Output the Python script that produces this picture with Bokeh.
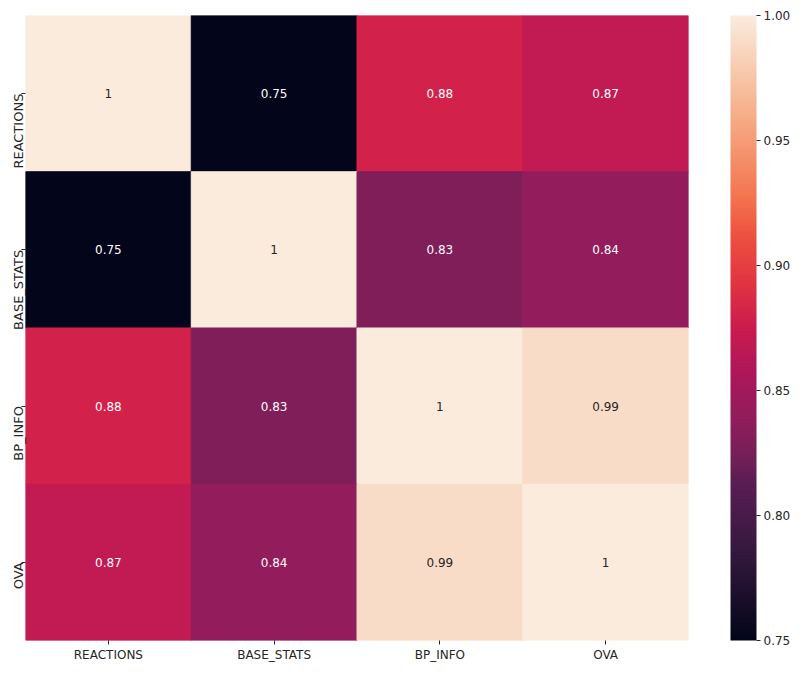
import math
from bokeh.plotting import figure
from bokeh.models import ColumnDataSource, LinearColorMapper, ColorBar, FixedTicker, PrintfTickFormatter
from bokeh.core.properties import value
from bokeh.embed import file_html
from bokeh.resources import INLINE

labels = ["REACTIONS", "BASE_STATS", "BP_INFO", "OVA"]
row_reactions = [1.00, 0.75, 0.88, 0.87]
row_base_stats = [0.75, 1.00, 0.83, 0.84]
row_bp_info = [0.88, 0.83, 1.00, 0.99]
row_ova = [0.87, 0.84, 0.99, 1.00]
matrix = [row_reactions, row_base_stats, row_bp_info, row_ova]
cbar_ticks = [0.75, 0.80, 0.85, 0.90, 0.95, 1.00]

# rocket colormap anchors
anchors = [(0.0, "#03051a"), (0.143, "#35193e"), (0.25, "#581d54"), (0.286, "#701f57"),
           (0.35, "#8f1d5c"), (0.429, "#ad1759"), (0.5, "#cb1b4f"), (0.571, "#e13342"),
           (0.65, "#ed5240"), (0.714, "#f37651"), (0.857, "#f6b48f"), (1.0, "#faebdd")]

def hex2rgb(h):
    return tuple(int(h[i:i+2], 16) for i in (1, 3, 5))

palette = []
for i in range(256):
    t = i / 255
    for k in range(len(anchors) - 1):
        t0, c0 = anchors[k]
        t1, c1 = anchors[k + 1]
        if t0 <= t <= t1:
            f = (t - t0) / (t1 - t0)
            a, b = hex2rgb(c0), hex2rgb(c1)
            rgb = [round(a[j] + f * (b[j] - a[j])) for j in range(3)]
            palette.append("#%02x%02x%02x" % tuple(rgb))
            break

vmin, vmax = 0.75, 1.0
mapper = LinearColorMapper(palette=palette, low=vmin, high=vmax)

xs, ys, vals, txt, tcol = [], [], [], [], []
for r, row in enumerate(matrix):
    for c, v in enumerate(row):
        xs.append(labels[c])
        ys.append(labels[r])
        vals.append(v)
        txt.append("1" if v == 1.0 else "%.2f" % v)
        tcol.append("#262626" if (v - vmin) / (vmax - vmin) > 0.8 else "#ffffff")

src = ColumnDataSource(dict(x=xs, y=ys, v=vals, t=txt, tc=tcol))

p = figure(frame_width=663, frame_height=625, x_range=labels, y_range=list(reversed(labels)),
           output_backend="svg", toolbar_location=None,
           min_border_left=22, min_border_top=15, min_border_bottom=0, min_border_right=0)
p.rect(x="x", y="y", width=1, height=1, source=src,
       fill_color={"field": "v", "transform": mapper},
       line_color={"field": "v", "transform": mapper}, line_width=1)
p.text(x="x", y="y", text="t", source=src, text_color="tc", text_align="center",
       text_baseline="middle", text_font=value("DejaVu Sans"), text_font_size="12px")

p.outline_line_color = None
p.grid.grid_line_color = None
for ax in (p.xaxis[0], p.yaxis[0]):
    ax.axis_line_color = None
    ax.major_tick_in = 0
    ax.major_tick_out = 4
    ax.major_tick_line_color = "#262626"
    ax.major_label_text_font = "DejaVu Sans"
    ax.major_label_text_color = "#262626"
    ax.major_label_standoff = 3
p.xaxis.major_label_text_font_size = "12px"
p.yaxis.major_label_text_font_size = "13px"
p.yaxis.major_label_orientation = math.pi / 2

cb = ColorBar(color_mapper=mapper, ticker=FixedTicker(ticks=cbar_ticks),
              formatter=PrintfTickFormatter(format="%.2f"),
              width=26, height=625, margin=0, padding=0,
              bar_line_color=None, border_line_color=None, background_fill_color=None,
              major_tick_in=0, major_tick_out=4, major_tick_line_color="#262626",
              major_label_text_font="DejaVu Sans", major_label_text_font_size="12px",
              major_label_text_color="#262626", label_standoff=3,
              location=(42, 0))
p.add_layout(cb, "right")

open("out.html", "w").write(file_html(p, INLINE))
